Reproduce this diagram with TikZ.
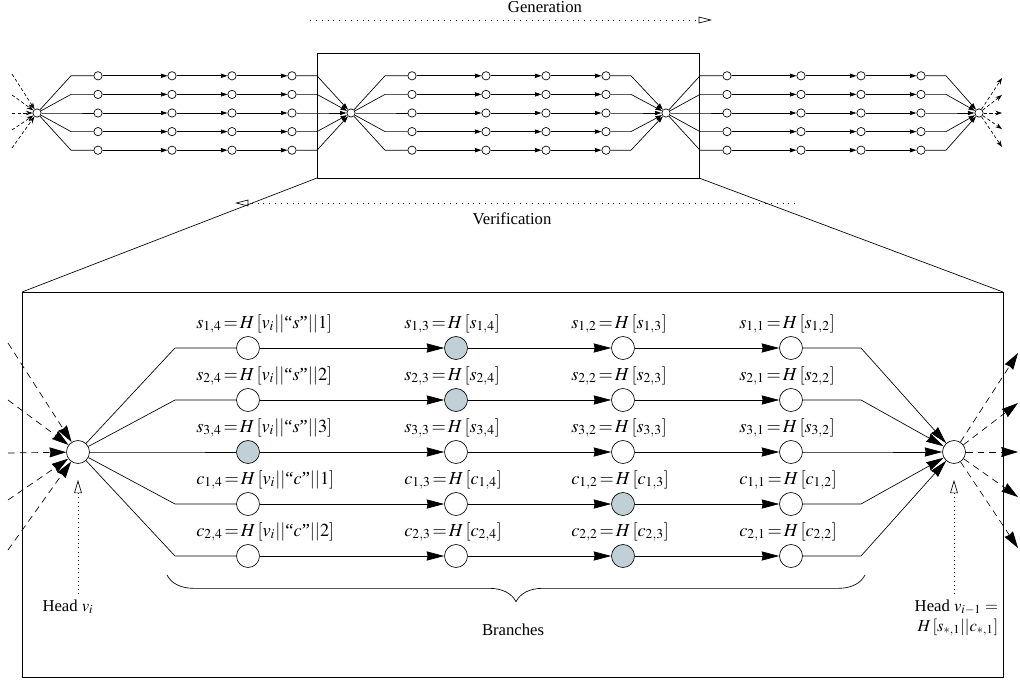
\documentclass[tikz,border=0pt]{standalone}
\usepackage{amsmath}
\usepackage{mathptmx}
\usepackage{fontspec}
\setmainfont{Liberation Serif}
\usetikzlibrary{arrows.meta, calc, decorations.pathreplacing}
\definecolor{shade}{RGB}{193,208,214}
\tikzset{
  bnode/.style={circle, draw, fill=white, minimum size=13.8pt, inner sep=0pt},
  hinode/.style={bnode, fill=shade},
  tnode/.style={circle, draw, fill=white, minimum size=5pt, inner sep=0pt},
  lbl/.style={anchor=west, inner sep=0pt, font=\fontsize{11}{13}\selectfont},
  flow/.style={-{Stealth[length=10.5pt,width=5.5pt,inset=0.6pt]}},
  tflow/.style={-{Stealth[length=4pt,width=2.6pt,inset=0.3pt]}},
  ext/.style={dash pattern=on 4pt off 3pt, -{Stealth[length=10pt,width=6pt,inset=0.6pt]}},
  tinyext/.style={dash pattern=on 2pt off 1.4pt, -{Stealth[length=4pt,width=2.8pt]}},
  ptr/.style={dash pattern=on 0.5pt off 2pt, -{Triangle[open,length=8pt,width=4.6pt]}},
  dir/.style={dash pattern=on 0.5pt off 3pt, -{Triangle[open,length=8pt,width=4pt]}},
  frame/.style={draw, inner sep=0pt, outer sep=0pt}
}

\begin{document}
\begin{tikzpicture}[x=0.6pt, y=-0.6pt]
  \useasboundingbox (0,0) rectangle (1020,680);

  % overview: three chained segments
  \node[frame, minimum width=229.2pt, minimum height=75pt] (zoom) at (508,115.5) {};
  \node[tnode] (th1) at (37,113) {};
  \node[tnode] (th2) at (351,113) {};
  \node[tnode] (th3) at (666,113) {};
  \node[tnode] (th4) at (979,113) {};
  \foreach \h [count=\seg] in {37,351,666} {
    \pgfmathtruncatemacro\nx{\seg+1}
    \foreach \row in {1,...,5} {
      \foreach \col/\dx in {1/61,2/135,3/195,4/255}
        \node[tnode] (t\seg\row\col) at (\h+\dx,{113+(\row-3)*18.6}) {};
      \draw (th\seg) -- ($(t\seg\row1)+(-27,0)$) -- (t\seg\row1);
      \draw[tflow] (t\seg\row1) -- (t\seg\row2);
      \draw[tflow] (t\seg\row2) -- (t\seg\row3);
      \draw[tflow] (t\seg\row3) -- (t\seg\row4);
      \draw[tflow] (t\seg\row4) -- ($(t\seg\row4)+(25,0)$) -- (th\nx);
    }
  }
  \foreach \y in {74,95,113,130,148}
    \draw[tinyext] (12,\y) -- (th1);
  \foreach \y in {78,95,113,129,147}
    \draw[tinyext] (th4) -- (1002,\y);

  \coordinate (g0) at (310,20);
  \coordinate (g1) at (712,20);
  \draw[dir] (g0) -- (g1);
  \node (gen) at (545,7) {Generation};
  \coordinate (v0) at (795,203);
  \coordinate (v1) at (235,203);
  \draw[dir] (v0) -- (v1);
  \node (ver) at (512,219) {Verification};

  % detail of one segment
  \node[frame, minimum width=588.6pt, minimum height=231pt] (detail) at (512.5,484.5) {};
  \draw (zoom.south west) -- (detail.north west);
  \draw (zoom.south east) -- (detail.north east);

  \node[bnode] (hl) at (78,452) {};
  \node[bnode] (hr) at (954,452) {};
  \foreach \nm/\ix/\hc [count=\row] in {s/1/2,s/2/2,s/3/1,c/1/3,c/2/3} {
    \foreach \col/\xx in {1/248,2/456,3/623,4/791} {
      \pgfmathtruncatemacro\jx{5-\col}
      \pgfmathtruncatemacro\jn{6-\col}
      \ifnum\col=\hc \def\sty{hinode}\else\def\sty{bnode}\fi
      \node[\sty] (b\row\col) at (\xx,{452+(\row-3)*52}) {};
      \ifnum\col=1
        \node[lbl] (l\row\col) at ($(b\row\col)+(-52,-24)$)
          {$\nm_{\ix,\jx}\!=\!H\,[v_i||\text{``}\nm\text{''}||\ix]$};
      \else
        \node[lbl] (l\row\col) at ($(b\row\col)+(-52,-24)$)
          {$\nm_{\ix,\jx}\!=\!H\,[\nm_{\ix,\jn}]$};
      \fi
    }
    \draw (hl) -- ($(b\row1)+(-73,0)$) -- (b\row1);
    \draw[flow] (b\row1) -- (b\row2);
    \draw[flow] (b\row2) -- (b\row3);
    \draw[flow] (b\row3) -- (b\row4);
    \draw[flow] (b\row4) -- ($(b\row4)+(70,0)$) -- (hr);
  }
  \foreach \y [count=\n] in {343,400,453,500,550} {
    \coordinate (in\n) at (8,\y);
    \draw[ext] (in\n) -- (hl);
  }
  \foreach \y [count=\n] in {353,403,452,497,548} {
    \coordinate (out\n) at (1018,\y);
    \draw[ext] (hr) -- (out\n);
  }

  \draw[decorate, decoration={brace, mirror, amplitude=16pt}] (167,575) -- (865,575);
  \node (br) at (513,630) {Branches};

  \node (hllab) at (68,607) {Head $v_i$};
  \draw[ptr] (hl |- hllab.north) -- ($(hl.south)+(0,16)$);
  \node[align=right, anchor=east] (hrlab) at (1004,618)
    {Head $v_{i-1}=$\\$H\,[s_{*,1}||c_{*,1}]$};
  \draw[ptr] (hr |- hrlab.north) -- ($(hr.south)+(0,16)$);
\end{tikzpicture}
\end{document}
